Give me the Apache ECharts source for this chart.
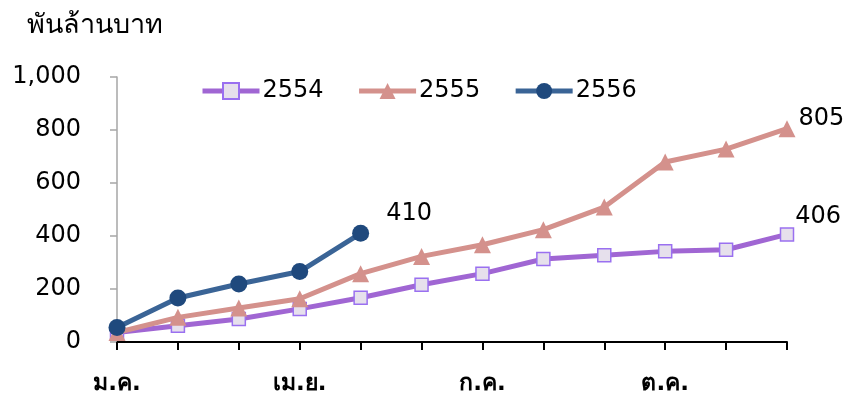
<!DOCTYPE html>
<html>
<head>
<meta charset="utf-8">
<script src="https://cdn.jsdelivr.net/npm/echarts@6/dist/echarts.min.js"></script>
<style>
  html, body { margin: 0; padding: 0; background: #fff; }
  #chart { width: 857px; height: 399px; }
</style>
</head>
<body>
<div id="chart"></div>
<script>
// Monthly cumulative values (พันล้านบาท)
var months = ['ม.ค.', 'ก.พ.', 'มี.ค.', 'เม.ย.', 'พ.ค.', 'มิ.ย.', 'ก.ค.', 'ส.ค.', 'ก.ย.', 'ต.ค.', 'พ.ย.', 'ธ.ค.'];
var shownMonths = ['ม.ค.', 'เม.ย.', 'ก.ค.', 'ต.ค.'];
var seriesNames = ['2554', '2555', '2556'];
var values2554 = [36, 61, 87, 125, 167, 216, 258, 313, 327, 342, 348, 406];
var values2555 = [36, 93, 128, 163, 258, 323, 367, 424, 509, 679, 728, 805];
var values2556 = [55, 166, 219, 266, 410];
var yTicks = { min: 0, max: 1000, step: 200 };

var FONT = 'Tahoma, "DejaVu Sans", sans-serif';

function lastLabel(data, extra) {
  return data.map(function (v, i) {
    if (i !== data.length - 1) return v;
    return {
      value: v,
      label: Object.assign({
        show: true, position: 'right', color: '#000',
        fontSize: 24, fontFamily: FONT
      }, extra)
    };
  });
}

var chart = echarts.init(document.getElementById('chart'));
chart.setOption({
  animation: false,
  textStyle: { fontFamily: FONT },
  title: {
    text: 'พันล้านบาท', left: 22, top: 7,
    textStyle: { fontSize: 27, fontWeight: 'normal', color: '#000', fontFamily: FONT }
  },
  legend: {
    left: 195, top: 74, itemWidth: 57, itemHeight: 20, itemGap: 33,
    textStyle: { fontSize: 24, color: '#000', fontFamily: FONT, padding: [0, 0, 0, -2] },
    lineStyle: { width: 5 },
    data: seriesNames
  },
  grid: { left: 117, right: 70, top: 77, bottom: 57 },
  xAxis: {
    type: 'category', data: months, boundaryGap: false,
    axisLine: { lineStyle: { color: '#000', width: 2 } },
    axisTick: { show: true, length: 8, interval: 0, lineStyle: { color: '#000', width: 2 } },
    axisLabel: {
      interval: 0, margin: 31, fontSize: 23, fontWeight: 'bold', color: '#000', fontFamily: FONT,
      formatter: function (v) { return shownMonths.indexOf(v) >= 0 ? v : ''; }
    }
  },
  yAxis: {
    type: 'value', min: yTicks.min, max: yTicks.max, interval: yTicks.step,
    axisLine: { show: true, lineStyle: { color: '#a6a6a6', width: 1.5 } },
    axisTick: { show: true, length: 7, lineStyle: { color: '#a6a6a6', width: 1.5 } },
    splitLine: { show: false },
    axisLabel: {
      margin: 36, fontSize: 24, color: '#000', fontFamily: FONT,
      formatter: function (v) { return v.toLocaleString('en-US'); }
    }
  },
  series: [
    {
      name: seriesNames[0], type: 'line', data: lastLabel(values2554, { offset: [-4, -18] }),
      symbol: 'rect', symbolSize: 13, z: 2,
      lineStyle: { color: '#a066d3', width: 5 },
      itemStyle: { color: '#e6e0ec', borderColor: '#9a70f0', borderWidth: 1.5 }
    },
    {
      name: seriesNames[1], type: 'line', data: lastLabel(values2555, { offset: [-2, -10] }),
      symbol: 'triangle', symbolSize: 17, z: 3,
      lineStyle: { color: '#d4918c', width: 5 },
      itemStyle: { color: '#d4918c' }
    },
    {
      name: seriesNames[2], type: 'line', data: lastLabel(values2556, { offset: [12, -20] }),
      symbol: 'circle', symbolSize: 17, z: 4,
      lineStyle: { color: '#3a6496', width: 5 },
      itemStyle: { color: '#1f497d' }
    }
  ]
});
</script>
</body>
</html>
